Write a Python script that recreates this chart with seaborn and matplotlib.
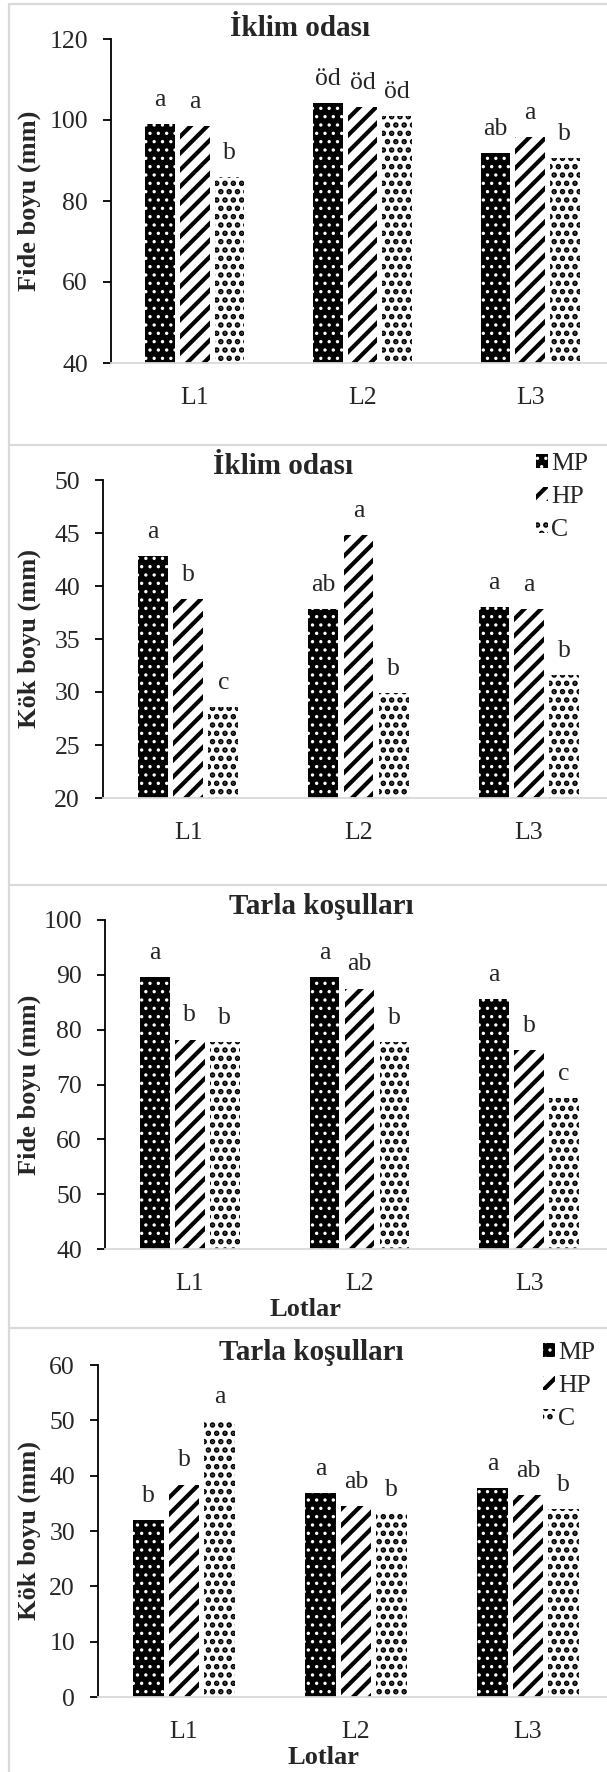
import matplotlib
matplotlib.use("Agg")
import matplotlib.pyplot as plt
from matplotlib.patches import Patch
from matplotlib.lines import Line2D
import seaborn as sns
import pandas as pd

# ---------------- data ----------------
lots = ["L1", "L2", "L3"]
treatments = ["MP", "HP", "C"]

# Panel 1: İklim odası - Fide boyu (mm)
p1_MP = [99.0, 104.3, 91.8]
p1_HP = [98.6, 103.2, 95.9]
p1_C = [85.9, 101.0, 90.6]
p1_letters = [["a", "a", "b"], ["öd", "öd", "öd"], ["ab", "a", "b"]]

# Panel 2: İklim odası - Kök boyu (mm)
p2_MP = [42.8, 37.8, 38.0]
p2_HP = [38.8, 44.8, 37.8]
p2_C = [28.6, 29.9, 31.6]
p2_letters = [["a", "b", "c"], ["ab", "a", "b"], ["a", "a", "b"]]

# Panel 3: Tarla koşulları - Fide boyu (mm)
p3_MP = [89.6, 89.6, 85.6]
p3_HP = [78.2, 87.5, 76.3]
p3_C = [77.8, 77.8, 67.6]
p3_letters = [["a", "b", "b"], ["a", "ab", "b"], ["a", "b", "c"]]

# Panel 4: Tarla koşulları - Kök boyu (mm)
p4_MP = [32.0, 36.9, 37.8]
p4_HP = [38.4, 34.5, 36.5]
p4_C = [49.8, 33.1, 33.9]
p4_letters = [["b", "b", "a"], ["a", "ab", "b"], ["a", "ab", "b"]]

titles = ["İklim odası", "İklim odası", "Tarla koşulları", "Tarla koşulları"]
ylabels = ["Fide boyu (mm)", "Kök boyu (mm)", "Fide boyu (mm)", "Kök boyu (mm)"]
yranges = [(40, 120, 20), (20, 50, 5), (40, 100, 10), (0, 60, 10)]
xlabel_text = "Lotlar"

# ---------------- style ----------------
sns.set_style("white")
plt.rcParams["font.family"] = ["Liberation Serif", "DejaVu Serif"]

W, H = 607, 1772
fig = plt.figure(figsize=(W / 100, H / 100), dpi=100)
fig.patch.set_facecolor("white")

# layout in pixels: left, top, bottom of each axes
layout = [
    dict(left=111, top=39, bottom=363, title=(300, 28), ylab=29, legend=None, xlab=None),
    dict(left=103, top=480, bottom=798, title=(283, 467), ylab=29, legend=(536, 453), xlab=None),
    dict(left=105, top=920, bottom=1249, title=(321, 906), ylab=29, legend=None, xlab=(306, 1310)),
    dict(left=98, top=1365, bottom=1697, title=(311, 1352), ylab=29, legend=(543, 1342), xlab=(323, 1757)),
]
RIGHT = 614

styles = {
    "MP": dict(face="black", hc="white", hatch="..", hlw=1.2),
    "HP": dict(face="white", hc="black", hatch="//", hlw=3.0),
    "C": dict(face="white", hc="black", hatch="..", hlw=2.7),
}


def make_draw(orig, lw):
    def draw(renderer, *args, **kwargs):
        with plt.rc_context({"hatch.linewidth": lw}):
            return orig(renderer, *args, **kwargs)
    return draw


def style_patch(p, s):
    p.set_facecolor(s["face"])
    p.set_edgecolor(s["hc"])
    p.set_linewidth(0)
    p.set_hatch(s["hatch"])
    if hasattr(p, "set_hatch_linewidth"):
        p.set_hatch_linewidth(s["hlw"])
    p._hatch_linewidth = s["hlw"]
    p.draw = make_draw(p.draw, s["hlw"])


panels = [
    (p1_MP, p1_HP, p1_C, p1_letters),
    (p2_MP, p2_HP, p2_C, p2_letters),
    (p3_MP, p3_HP, p3_C, p3_letters),
    (p4_MP, p4_HP, p4_C, p4_letters),
]

FS = 18.5

for k, (mp, hp, c, letters) in enumerate(panels):
    L = layout[k]
    ax = fig.add_axes([L["left"] / W, 1 - L["bottom"] / H,
                       (RIGHT - L["left"]) / W, (L["bottom"] - L["top"]) / H])
    df = pd.DataFrame({
        "Lot": lots * 3,
        "Trt": ["MP"] * 3 + ["HP"] * 3 + ["C"] * 3,
        "val": list(mp) + list(hp) + list(c),
    })
    sns.barplot(data=df, x="Lot", y="val", hue="Trt", order=lots,
                hue_order=treatments, ax=ax, width=0.62, gap=0.15,
                errorbar=None, legend=False)
    for i, cont in enumerate(ax.containers):
        s = styles[treatments[i]]
        for j, bar in enumerate(cont):
            style_patch(bar, s)
            ax.annotate(letters[j][i],
                        xy=(bar.get_x() + bar.get_width() / 2, bar.get_height()),
                        xytext=(0, 13), textcoords="offset points",
                        ha="center", va="baseline", fontsize=FS)
    lo, hi, st = yranges[k]
    ax.set_ylim(lo, hi)
    ax.set_yticks(list(range(lo, hi + 1, st)))
    ax.set_xlim(-0.5, 2.5)
    ax.set_xlabel("")
    ax.set_ylabel("")
    for sp in ("top", "right"):
        ax.spines[sp].set_visible(False)
    ax.spines["left"].set_color("black")
    ax.spines["left"].set_linewidth(1.3)
    ax.spines["bottom"].set_color("#d9d9d9")
    ax.spines["bottom"].set_linewidth(1.3)
    ax.tick_params(axis="y", labelsize=FS, length=5.5, width=1.3, pad=11,
                   color="black", direction="out", left=True)
    ax.tick_params(axis="x", labelsize=FS, length=0, pad=17)
    ax.set_facecolor("white")

    # title / labels
    tx, ty = L["title"]
    fig.text(tx / W, 1 - ty / H, titles[k], ha="center", va="center",
             fontsize=21, fontweight="bold")
    yc = (L["top"] + L["bottom"]) / 2
    fig.text(L["ylab"] / W, 1 - yc / H, ylabels[k], ha="center", va="center",
             rotation=90, fontsize=19, fontweight="bold")
    if L["xlab"] is not None:
        xx, xy = L["xlab"]
        fig.text(xx / W, 1 - xy / H, xlabel_text, ha="center", va="center",
                 fontsize=19, fontweight="bold")
    if L["legend"] is not None:
        handles = []
        for t in treatments:
            h = Patch(label=t)
            style_patch(h, styles[t])
            handles.append(h)
        lx, ly = L["legend"]
        leg = ax.legend(handles=handles, loc="upper left",
                        bbox_to_anchor=(lx / W, 1 - ly / H),
                        bbox_transform=fig.transFigure, frameon=False,
                        fontsize=FS, handlelength=0.45, handleheight=0.45,
                        handletextpad=0.15, labelspacing=0.42,
                        borderpad=0, borderaxespad=0)
        for t, lp in zip(treatments, leg.get_patches()):
            style_patch(lp, styles[t])

# panel borders
grey = "#d9d9d9"
for yb in (4, 445, 885, 1328):
    fig.add_artist(Line2D([9 / W, 1], [1 - yb / H, 1 - yb / H],
                          transform=fig.transFigure, color=grey, lw=1.6))
fig.add_artist(Line2D([9 / W, 9 / W], [1 - 4 / H, 0],
                      transform=fig.transFigure, color=grey, lw=1.6))

fig.savefig("out.png", dpi=100, facecolor="white")
